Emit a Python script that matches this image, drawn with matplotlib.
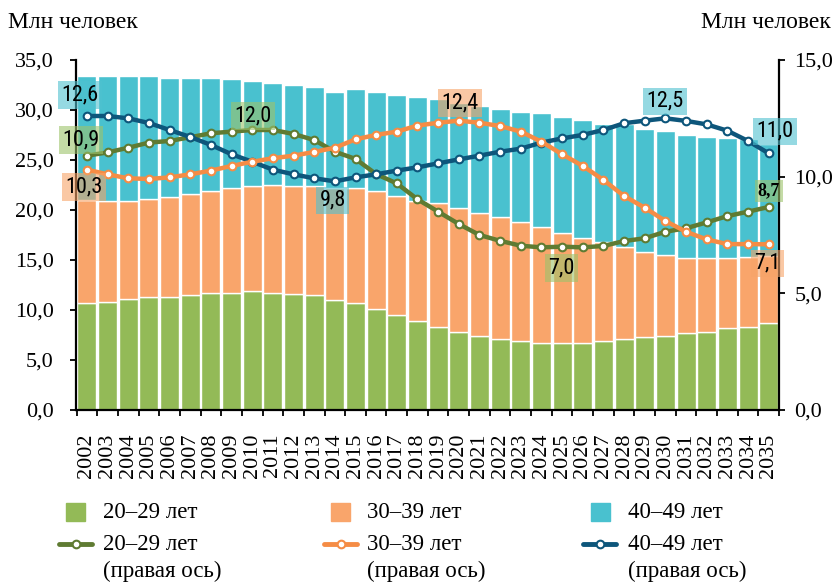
import matplotlib
matplotlib.use('Agg')
import matplotlib.pyplot as plt
from matplotlib.patches import Rectangle
from matplotlib.lines import Line2D
from matplotlib.ticker import MultipleLocator, FuncFormatter
from matplotlib import font_manager
import numpy as np

years = [str(y) for y in range(2002, 2036)]

# bars, left axis (million people)
bar_20_29 = [10.7, 10.8, 11.1, 11.3, 11.3, 11.5, 11.7, 11.7, 11.9, 11.7, 11.6, 11.5,
             11.0, 10.7, 10.1, 9.5, 8.9, 8.3, 7.8, 7.4, 7.1, 6.9, 6.7, 6.7, 6.7, 6.9,
             7.1, 7.3, 7.4, 7.7, 7.8, 8.2, 8.3, 8.7]
bar_30_39 = [10.3, 10.1, 9.8, 9.8, 10.0, 10.1, 10.2, 10.5, 10.5, 10.8, 10.8, 10.9,
             11.2, 11.5, 11.8, 11.9, 12.0, 12.4, 12.4, 12.3, 12.2, 11.9, 11.6, 11.0,
             10.5, 9.9, 9.2, 8.5, 8.1, 7.5, 7.4, 7.0, 7.0, 6.7]
bar_40_49 = [12.4, 12.5, 12.5, 12.3, 11.9, 11.6, 11.3, 10.9, 10.5, 10.2, 10.1, 9.9,
             9.6, 9.9, 9.9, 10.1, 10.4, 10.4, 10.5, 10.7, 10.8, 11.0, 11.4, 11.6,
             11.8, 11.8, 12.3, 12.3, 12.4, 12.3, 12.1, 12.0, 11.8, 11.2]

# lines, right axis
line_20_29 = [10.9, 11.04, 11.24, 11.46, 11.53, 11.69, 11.86, 11.93, 12.0, 12.0, 11.83,
              11.57, 11.07, 10.76, 10.11, 9.71, 9.03, 8.5, 7.97, 7.5, 7.25, 7.04, 6.97,
              7.0, 6.97, 7.03, 7.24, 7.36, 7.64, 7.79, 8.04, 8.31, 8.5, 8.7]
line_30_39 = [10.3, 10.1, 9.93, 9.9, 9.97, 10.1, 10.26, 10.46, 10.64, 10.79, 10.9,
              11.06, 11.24, 11.6, 11.79, 11.93, 12.19, 12.31, 12.4, 12.31, 12.17,
              11.93, 11.5, 10.96, 10.46, 9.86, 9.17, 8.67, 8.1, 7.64, 7.31, 7.11,
              7.11, 7.1]
line_40_49 = [12.6, 12.6, 12.5, 12.3, 12.0, 11.7, 11.36, 10.96, 10.64, 10.3, 10.1,
              9.93, 9.8, 9.97, 10.1, 10.26, 10.4, 10.57, 10.74, 10.9, 11.07, 11.2,
              11.46, 11.64, 11.79, 12.0, 12.29, 12.4, 12.5, 12.39, 12.24, 11.97,
              11.53, 11.0]

group_names = ['20\u201329 лет', '30\u201339 лет', '40\u201349 лет']
right_note = '(правая ось)'
unit_label = 'Млн человек'

bar_colors = ['#93ba57', '#f9a56b', '#49c1cf']
line_colors = ['#5f7b32', '#f58c45', '#0d567b']
box_colors = ['#9dc36b', '#f7a468', '#4fc1d0']

serif = ['Liberation Serif', 'DejaVu Serif']

# narrow sans for the value labels, if one is around
names = {f.name for f in font_manager.fontManager.ttflist}
narrow_kw = dict(family='DejaVu Sans', fontsize=14)
for nm in ['Liberation Sans Narrow', 'Arial Narrow', 'Roboto Condensed', 'DejaVu Sans Condensed']:
    if nm in names:
        narrow_kw = dict(family=nm, fontsize=16)
        break
else:
    cond = [f for f in font_manager.fontManager.ttflist
            if f.name == 'DejaVu Sans' and f.stretch == 'condensed' and f.weight == 400]
    if cond:
        narrow_kw = dict(fname=cond[0].fname)
if 'fname' in narrow_kw:
    narrow_kw = dict(fontproperties=font_manager.FontProperties(fname=narrow_kw['fname'], size=15))
elif narrow_kw['family'] == 'DejaVu Sans':
    narrow_kw = dict(family='Roboto', fontsize=15)

fig = plt.figure(figsize=(8.38, 5.83), dpi=100)
W, H = 838, 583
ax = fig.add_axes([76 / W, 1 - 410 / H, 703 / W, 350 / H])

x = np.arange(len(years))
bottom = np.zeros(len(years))
for vals, col in zip([bar_20_29, bar_30_39, bar_40_49], bar_colors):
    ax.bar(x, vals, bottom=bottom, width=0.92, color=col, edgecolor='white',
           linewidth=1.0, zorder=2)
    bottom += np.array(vals)

ax.set_xlim(-0.53, 33.48)
ax.set_ylim(0, 35)
ax.yaxis.set_major_locator(MultipleLocator(5))
comma = FuncFormatter(lambda v, p: f'{v:.1f}'.replace('.', ','))
ax.yaxis.set_major_formatter(comma)
ax.set_xticks(x)
ax.set_xticklabels(years, rotation=90, family=serif, fontsize=16)
ax.set_xticks(np.arange(-0.5, 34, 1), minor=True)
ax.tick_params(axis='x', which='major', length=0, pad=17)
ax.tick_params(axis='x', which='minor', length=4, width=1.3, direction='out')
ax.tick_params(axis='y', length=4, width=1.3, pad=12, labelsize=16)
for lab in ax.get_yticklabels():
    lab.set_family(serif)
for s in ['top', 'right']:
    ax.spines[s].set_visible(False)
for s in ['left', 'bottom']:
    ax.spines[s].set_linewidth(1.6)

ax2 = ax.twinx()
ax2.set_ylim(0, 15)
ax2.yaxis.set_major_locator(MultipleLocator(5))
ax2.yaxis.set_major_formatter(comma)
ax2.tick_params(axis='y', length=4, width=1.3, pad=7, labelsize=16)
for lab in ax2.get_yticklabels():
    lab.set_family(serif)
for s in ['top', 'left', 'bottom']:
    ax2.spines[s].set_visible(False)
ax2.spines['right'].set_linewidth(1.6)

lines = [line_20_29, line_30_39, line_40_49]
for i in [0, 2, 1]:
    ax2.plot(x, lines[i], color=line_colors[i], lw=3.2, marker='o', ms=5.5,
             mfc='white', mec=line_colors[i], mew=1.5, zorder=3)

# value labels: (series, year index, offset px)
labels = [(2, 0, (-7, 21)), (0, 0, (-6, 16)), (1, 0, (-3, -17)),
          (0, 8, (1, 14)), (2, 12, (-2, -19)), (1, 18, (1, 18)),
          (0, 23, (-1, -21)), (2, 28, (0, 17)), (2, 33, (6, 22)),
          (0, 33, (0, 16)), (1, 33, (-1, -19))]
for s, i, off in labels:
    v = lines[s][i]
    txt = f'{v:.1f}'.replace('.', ',')
    if (s, i) == (0, 33):
        kw = dict(family=serif, fontsize=13, fontweight='bold')
    else:
        kw = narrow_kw
    ax2.annotate(txt, (x[i], v), xytext=off, textcoords='offset pixels',
                 ha='center', va='center', zorder=5, annotation_clip=False,
                 bbox=dict(boxstyle='square,pad=0.15', fc=box_colors[s],
                           ec='none', alpha=0.6), **kw)

fig.text(8 / W, 1 - 23 / H, unit_label, family=serif, fontsize=17,
         ha='left', va='center')
fig.text(831 / W, 1 - 22 / H, unit_label, family=serif, fontsize=17,
         ha='right', va='center')

# legend drawn by hand
sq_x = [66, 331, 591]
ln_x = [59, 324, 583]
tx_x = [103, 367, 628]
for k in range(3):
    fig.patches.append(Rectangle((sq_x[k] / W, 1 - 521 / H), 19 / W, 18 / H,
                                 transform=fig.transFigure, color=bar_colors[k]))
    fig.text(tx_x[k] / W, 1 - 512 / H, group_names[k], family=serif,
             fontsize=16.5, ha='left', va='center')
    fig.lines.append(Line2D([ln_x[k] / W, (ln_x[k] + 33) / W],
                            [1 - 544 / H, 1 - 544 / H], transform=fig.transFigure,
                            color=line_colors[k], lw=3.5, solid_capstyle='round'))
    fig.lines.append(Line2D([(ln_x[k] + 16.5) / W], [1 - 544 / H],
                            transform=fig.transFigure, marker='o', ms=5.5,
                            mfc='white', mec=line_colors[k], mew=1.5))
    fig.text(tx_x[k] / W, 1 - 544 / H, group_names[k], family=serif,
             fontsize=16.5, ha='left', va='center')
    fig.text(tx_x[k] / W, 1 - 571 / H, right_note, family=serif,
             fontsize=16.5, ha='left', va='center')

fig.savefig('out.png', dpi=100)
